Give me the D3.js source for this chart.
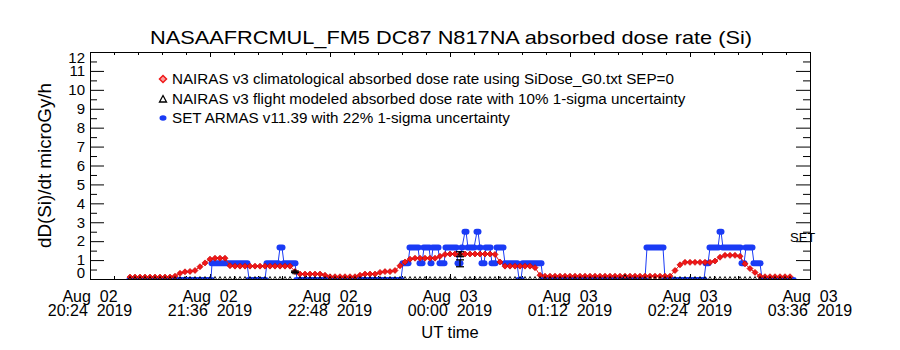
<!DOCTYPE html>
<html>
<head>
<meta charset="utf-8">
<script src="https://cdn.jsdelivr.net/npm/d3@7"></script>
<style>
body { margin: 0; background: #fff; }
svg { display: block; font-family: "Liberation Sans", Arial, sans-serif; }
</style>
</head>
<body>
<svg id="chart" width="900" height="350"></svg>
<script>
// --- data ---
const titleText = "NASAAFRCMUL_FM5 DC87 N817NA absorbed dose rate (Si)";
const legendLabels = [
    "NAIRAS v3 climatological absorbed dose rate using SiDose_G0.txt SEP=0",
    "NAIRAS v3 flight modeled absorbed dose rate with 10% 1-sigma uncertainty",
    "SET ARMAS v11.39 with 22% 1-sigma uncertainty"
];
const xTickTimes = ["20:24", "21:36", "22:48", "00:00", "01:12", "02:24", "03:36"];
const xTickDays  = ["Aug  02", "Aug  02", "Aug  02", "Aug  03", "Aug  03", "Aug  03", "Aug  03"];
const yTicks = [0, 1, 2, 3, 4, 5, 6, 7, 8, 9, 10, 11, 12];

// NAIRAS climatological, one value every 3 min from 20:48
const sampleStart = "20:48";
const sampleStepMin = 3;
const climValues = [
    0.1, 0.1, 0.1, 0.1, 0.1, 0.1, 0.1, 0.1, 0.1,
    0.15, 0.3, 0.38, 0.4, 0.45, 0.65, 0.85, 1.05, 1.1, 1.1, 1.1,
    0.7, 0.68, 0.68, 0.68, 0.68, 0.68, 0.68, 0.68, 0.68, 0.68, 0.68, 0.68, 0.68,
    0.4, 0.26, 0.26, 0.26, 0.26, 0.26,
    0.2, 0.12, 0.12, 0.12, 0.12, 0.12, 0.12,
    0.2, 0.26, 0.26, 0.26,
    0.35, 0.39, 0.39, 0.45, 0.7, 0.9, 1.05,
    1.1, 1.1, 1.1, 1.1, 1.1,
    1.2, 1.3,
    1.32, 1.32, 1.32, 1.32, 1.32, 1.32, 1.32, 1.32, 1.32,
    1.3, 0.9,
    0.68, 0.68, 0.68, 0.68, 0.68, 0.68,
    0.6, 0.2,
    0.15, 0.15, 0.15, 0.15, 0.15, 0.15, 0.15, 0.15, 0.15, 0.15, 0.15, 0.15, 0.15,
    0.15, 0.15, 0.15, 0.15, 0.15, 0.15, 0.15, 0.15, 0.15, 0.15, 0.15, 0.15, 0.15,
    0.45, 0.75,
    0.88, 0.88, 0.88, 0.88, 0.88, 0.88,
    0.95, 1.15,
    1.25, 1.25, 1.25,
    1.2, 0.8, 0.55, 0.35, 0.15,
    0.12, 0.12, 0.12, 0.12, 0.12, 0.12
];

// NAIRAS flight modeled, same sampling
const modeledValues = [
    0, 0, 0, 0, 0, 0, 0, 0, 0, 0, 0, 0, 0, 0, 0, 0, 0, 0, 0, 0,
    0, 0, 0, 0, 0, 0, 0, 0, 0, 0, 0, 0, 0, 0.38, 0, 0, 0, 0, 0, 0,
    0, 0, 0, 0, 0, 0, 0, 0, 0, 0, 0, 0, 0, 0, 0, 0, 0, 0, 0, 0,
    0, 0, 0, 0, 0, 0, 1.31, 0, 0, 0, 0, 0, 0, 0, 0, 0, 0, 0, 0, 0,
    0, 0, 0, 0, 0, 0, 0, 0, 0, 0, 0, 0, 0, 0, 0, 0, 0, 0, 0, 0.1,
    0, 0, 0, 0, 0, 0, 0, 0, 0, 0, 0, 0, 0, 0, 0, 0, 0, 0, 0, 0,
    0, 0, 0, 0, 0, 0, 0, 0, 0, 0, 0, 0, 0
];

// SET ARMAS: runs of constant (quantised) dose rate
const setFrom = ["20:48:00", "21:37:12", "21:59:24", "22:10:12", "22:18:00", "22:20:24", "22:28:12",
    "23:31:48", "23:36:00", "23:42:00", "23:44:24", "23:48:36", "23:49:48", "23:54:00", "23:57:36",
    "00:04:48", "00:07:12", "00:09:00", "00:10:48", "00:16:12", "00:18:00", "00:19:12", "00:21:36",
    "00:25:12", "00:28:12", "00:33:00", "00:41:24", "00:43:48", "00:55:48", "01:58:12", "02:09:00",
    "02:33:36", "02:36:00", "02:42:00", "02:43:48", "02:55:12", "02:57:36", "03:02:24", "03:07:12"];
const setTo = ["21:36:36", "21:58:12", "22:09:00", "22:16:48", "22:19:12", "22:27:00", "23:30:36",
    "23:34:48", "23:40:48", "23:43:12", "23:47:24", "23:48:36", "23:52:48", "23:56:24", "00:03:36",
    "00:06:00", "00:07:12", "00:09:36", "00:14:24", "00:16:48", "00:18:00", "00:20:24", "00:24:00",
    "00:27:00", "00:31:48", "00:40:12", "00:42:36", "00:54:36", "01:57:00", "02:07:48", "02:32:24",
    "02:34:48", "02:40:48", "02:42:36", "02:54:00", "02:56:24", "03:01:12", "03:06:00", "03:25:48"];
const setLevel = [0, 0.83, 0, 0.83, 1.66, 0.83, 0,
    0.83, 1.66, 0.83, 1.66, 0.83, 1.66, 0.83, 1.66,
    0.83, 1.66, 2.5, 1.66, 2.5, 1.66, 0.83, 1.66,
    0.83, 1.66, 0.83, 0, 0.83, 0, 1.66, 0,
    0.83, 1.66, 2.5, 1.66, 0.83, 1.66, 0.83, 0];

// representative 1-sigma error bars
const errTimes = ["22:27", "00:06", "00:06"];
const errValues = [0.38, 1.31, 0.83];
const errSigma = [0.10, 0.10, 0.22];

const red = "#f01818", blue = "#1a3bf5";

// --- helpers ---
function parseT(s) {
    const p = s.split(":").map(Number);
    const day = p[0] >= 12 ? 2 : 3;
    return new Date(Date.UTC(2019, 7, day, p[0], p[1], p[2] || 0));
}

const svg = d3.select("#chart");
const pLeft = 90, pRight = 810, pTop = 52, pBottom = 279;

const x = d3.scaleUtc()
    .domain([parseT("20:24"), parseT("03:36")])
    .range([pLeft, pRight]);
const y = d3.scaleLinear().domain([0, 12]).range([pBottom, pTop]);

const t0 = parseT(sampleStart);
const sampleTime = i => new Date(t0.getTime() + i * sampleStepMin * 60000);

// --- axes ---
const xMajor = xTickTimes.map(parseT);
const xMinor = [];
xMajor.slice(0, -1).forEach(t => {
    for (let k = 1; k < 5; k++) xMinor.push(new Date(t.getTime() + k * 14.4 * 60000));
});
const yMinor = yTicks.slice(0, -1).map(v => v + 0.5);

function axisStyle(g) {
    g.selectAll("path,line").attr("stroke", "#000");
    g.selectAll("text").remove();
}

svg.append("g").attr("transform", `translate(0,${pBottom})`)
    .call(d3.axisBottom(x).tickValues(xMajor).tickSize(-5).tickSizeOuter(0)).call(axisStyle);
svg.append("g").attr("transform", `translate(0,${pBottom})`)
    .call(d3.axisBottom(x).tickValues(xMinor).tickSize(-3).tickSizeOuter(0)).call(axisStyle);
svg.append("g").attr("transform", `translate(0,${pTop})`)
    .call(d3.axisTop(x).tickValues(xMajor).tickSize(-5).tickSizeOuter(0)).call(axisStyle);
svg.append("g").attr("transform", `translate(0,${pTop})`)
    .call(d3.axisTop(x).tickValues(xMinor).tickSize(-3).tickSizeOuter(0)).call(axisStyle);

svg.append("g").attr("transform", `translate(${pLeft},0)`)
    .call(d3.axisLeft(y).tickValues(yTicks).tickSize(-14).tickSizeOuter(0)).call(axisStyle);
svg.append("g").attr("transform", `translate(${pLeft},0)`)
    .call(d3.axisLeft(y).tickValues(yMinor).tickSize(-7).tickSizeOuter(0)).call(axisStyle);
svg.append("g").attr("transform", `translate(${pRight},0)`)
    .call(d3.axisRight(y).tickValues(yTicks).tickSize(-14).tickSizeOuter(0)).call(axisStyle);
svg.append("g").attr("transform", `translate(${pRight},0)`)
    .call(d3.axisRight(y).tickValues(yMinor).tickSize(-7).tickSizeOuter(0)).call(axisStyle);

// y tick labels (end labels pulled inside like the original)
svg.append("g").selectAll("text").data(yTicks).join("text")
    .attr("x", pLeft - 5)
    .attr("y", d => y(d) + (d === 12 ? 6 : d === 0 ? -6 : 0))
    .attr("dy", "0.35em")
    .attr("text-anchor", "end")
    .style("font-size", "15px")
    .text(d => d);

// x tick labels, two lines
const xl = svg.append("g").selectAll("text").data(xMajor).join("text")
    .attr("text-anchor", "middle")
    .attr("xml:space", "preserve")
    .style("font-size", "16px");
xl.append("tspan").attr("x", d => x(d)).attr("y", 302).text((d, i) => xTickDays[i]);
xl.append("tspan").attr("x", d => x(d)).attr("y", 316).text((d, i) => xTickTimes[i] + "  2019");

svg.append("text").attr("x", 450).attr("y", 338).attr("text-anchor", "middle")
    .style("font-size", "16.5px").text("UT time");

svg.append("text")
    .attr("transform", "translate(51,165.5) rotate(-90)")
    .attr("text-anchor", "middle")
    .attr("textLength", 165).attr("lengthAdjust", "spacingAndGlyphs")
    .style("font-size", "18px")
    .text("dD(Si)/dt microGy/h");

svg.append("text").attr("x", 451).attr("y", 44).attr("text-anchor", "middle")
    .attr("textLength", 602).attr("lengthAdjust", "spacingAndGlyphs")
    .style("font-size", "19px")
    .text(titleText);

// --- data marks ---
svg.append("clipPath").attr("id", "clip").append("rect")
    .attr("x", pLeft).attr("y", pTop).attr("width", pRight - pLeft).attr("height", pBottom - pTop);
const plot = svg.append("g").attr("clip-path", "url(#clip)");

const setRuns = setFrom.map((f, i) => ({a: parseT(f), b: parseT(setTo[i]), v: setLevel[i]}));

// thin line joining consecutive SET runs
plot.append("g").selectAll("line").data(setRuns.slice(1)).join("line")
    .attr("x1", (d, i) => x(setRuns[i].b)).attr("y1", (d, i) => y(setRuns[i].v))
    .attr("x2", d => x(d.a)).attr("y2", d => y(d.v))
    .attr("stroke", blue).attr("stroke-width", 1);

// SET dots merge into bars; those at zero sit mostly below the clip edge
plot.append("g").selectAll("rect").data(setRuns).join("rect")
    .attr("x", d => x(d.a) - 3.5)
    .attr("width", d => x(d.b) - x(d.a) + 7)
    .attr("y", d => y(d.v) - (d.v === 0 ? 2 : 3))
    .attr("height", d => d.v === 0 ? 4 : 6)
    .attr("rx", 3)
    .attr("fill", blue);

// NAIRAS climatological: diamonds joined by a thin line
const clim = climValues.map((v, i) => ({t: sampleTime(i), v: v}));
plot.append("path").datum(clim)
    .attr("d", d3.line().x(d => x(d.t)).y(d => y(d.v)))
    .attr("fill", "none").attr("stroke", red).attr("stroke-width", 1);
const diamond = "M0,-3L3,0L0,3L-3,0Z";
plot.append("g").selectAll("path").data(clim).join("path")
    .attr("transform", d => `translate(${x(d.t)},${y(d.v)})`)
    .attr("d", diamond)
    .attr("fill", red).attr("stroke", "#c80000").attr("stroke-width", 0.7);

// NAIRAS modeled: small black triangles
const modeled = modeledValues.map((v, i) => ({t: sampleTime(i), v: v}));
const tri = "M0,-2.5L2.5,2L-2.5,2Z";
plot.append("g").selectAll("path").data(modeled).join("path")
    .attr("transform", d => `translate(${x(d.t)},${y(d.v)})`)
    .attr("d", tri)
    .attr("fill", "none").attr("stroke", "#000").attr("stroke-width", 0.9);

// error bars
const errs = errTimes.map((t, i) => ({t: parseT(t), v: errValues[i], s: errSigma[i] * errValues[i]}));
const eb = plot.append("g").attr("stroke", "#000").attr("stroke-width", 1.3);
errs.forEach(d => {
    const cx = x(d.t);
    eb.append("line").attr("x1", cx).attr("x2", cx).attr("y1", y(d.v - d.s)).attr("y2", y(d.v + d.s));
    [d.v - d.s, d.v + d.s].forEach(v => {
        eb.append("line").attr("x1", cx - 4).attr("x2", cx + 4).attr("y1", y(v)).attr("y2", y(v));
    });
});

// --- legend ---
const legY = [79, 99, 118];
const lg = svg.append("g");
lg.append("path").attr("transform", `translate(163,${legY[0]})`).attr("d", "M0,-3.5L3.5,0L0,3.5L-3.5,0Z")
    .attr("fill", "#f8a0a0").attr("stroke", red).attr("stroke-width", 1.5);
lg.append("path").attr("transform", `translate(163,${legY[1]})`).attr("d", "M0,-3.5L3.5,3L-3.5,3Z")
    .attr("fill", "#fff").attr("stroke", "#000").attr("stroke-width", 1.3);
lg.append("ellipse").attr("cx", 163).attr("cy", legY[2]).attr("rx", 3.5).attr("ry", 2.8).attr("fill", blue);
const legText = lg.selectAll("text").data(legendLabels).join("text")
    .attr("x", 172).attr("y", (d, i) => legY[i] + 5)
    .style("font-size", "13px")
    .text(d => d);
const w2 = legText.nodes()[1].getComputedTextLength();
legText.style("font-size", (13 * 514 / w2) + "px");

svg.append("text").attr("x", 790).attr("y", 242).style("font-size", "13px").text("SET");
</script>
</body>
</html>
